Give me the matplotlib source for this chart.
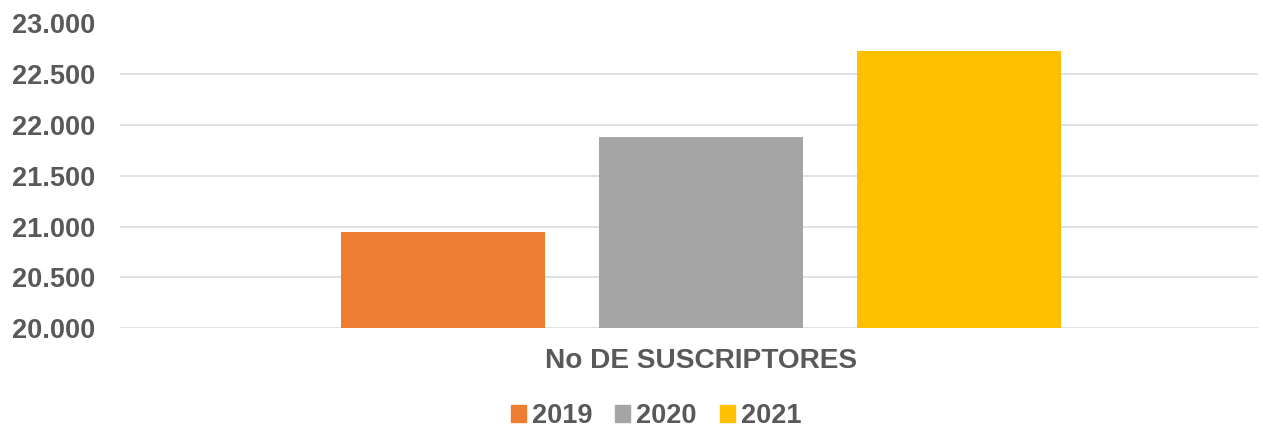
import matplotlib.pyplot as plt
from matplotlib.ticker import FuncFormatter
from matplotlib.patches import Patch

categoria = "No DE SUSCRIPTORES"
anios = ["2019", "2020", "2021"]
suscriptores = [20948, 21883, 22729]
colores = ["#ED7D31", "#A5A5A5", "#FFC000"]

plt.rcParams['font.family'] = ['Liberation Sans', 'DejaVu Sans']
plt.rcParams['font.weight'] = 'bold'
gris = "#595959"

fig = plt.figure(figsize=(12.63, 4.29), dpi=100)
ax = fig.add_axes([120 / 1263, 1 - 328.3 / 429, 1138 / 1263, (328.3 - 23.5) / 429])

ancho = 0.787
for i, (anio, valor, color) in enumerate(zip(anios, suscriptores, colores)):
    ax.bar(i - 1, valor - 20000, bottom=20000, width=ancho, color=color, label=anio, zorder=3)

ax.set_ylim(20000, 23000)
ax.set_yticks(range(20000, 23001, 500))
ax.yaxis.set_major_formatter(FuncFormatter(lambda v, p: f"{int(v):,}".replace(",", ".")))
ax.set_xlim(-581 / 258, 557 / 258)
ax.set_xticks([0])
ax.set_xticklabels([categoria])

ax.grid(axis='y', color='#d9d9d9', linewidth=1.1, zorder=0)
for s in ax.spines.values():
    s.set_visible(False)
ax.tick_params(axis='both', length=0, colors=gris, labelsize=19.5)
ax.tick_params(axis='y', pad=18)
ax.tick_params(axis='x', pad=14, labelsize=20.2)
for t in ax.get_xticklabels() + ax.get_yticklabels():
    t.set_fontweight('bold')

handles = [Patch(color=c) for c in colores]
leg = fig.legend(handles, anios, loc='center', bbox_to_anchor=(656 / 1263, 1 - 416 / 429), ncol=3,
                 frameon=False, fontsize=19.5, handlelength=0.55, handleheight=0.55,
                 handletextpad=0.22, columnspacing=0.85, borderpad=0, borderaxespad=0)
for t in leg.get_texts():
    t.set_color(gris)
    t.set_fontweight('bold')

fig.savefig("out.png", dpi=100)
